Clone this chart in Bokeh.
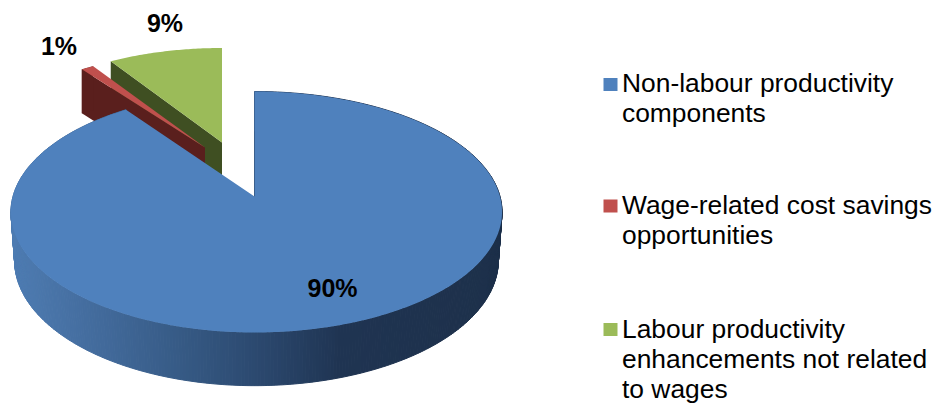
import math
from bokeh.plotting import figure
from bokeh.embed import file_html
from bokeh.resources import INLINE
from bokeh.models import Range1d
from bokeh.core.properties import value

categories = ["Non-labour productivity components",
              "Wage-related cost savings opportunities",
              "Labour productivity enhancements not related to wages"]
shares = [90, 1, 9]
percent_labels = ["90%", "1%", "9%"]
legend_lines = [["Non-labour productivity", "components"],
                ["Wage-related cost savings", "opportunities"],
                ["Labour productivity", "enhancements not related", "to wages"]]

TOP_COLORS = ["#4F81BD", "#C0504D", "#9BBB59"]
WALL_COLORS = [None, "#5A1F1D", "#3F4F22"]
# Left-to-right shading of the front wall of the large slice: (screen x, r, g, b)
WALL_SHADE = [(10, 78, 124, 178), (100, 66, 106, 155), (180, 54, 90, 133),
              (260, 43, 72, 110), (340, 31, 52, 82), (500, 29, 48, 74)]

# Screen placement of each exploded slice:
# apex x, apex y, x scale, y scale, wall depth, sideways rim offset
PLACEMENT = [(254.0, 196, 1.0, 1.0, 48, 2.0),
             (204.5, 147, 0.95, 0.90, 44, 0.0),
             (221.5, 142, 0.945, 0.90, 44, 0.0)]
HALF_W, HALF_D, TILT = 243.5, 118.5, 0.1286


def project(theta_deg, place, drop=0.0, wx=1.0, wy=1.0):
    """Perspective projection of a rim point; theta runs clockwise from 12 o'clock."""
    ax, ay, sx, sy, _, side = place
    t = math.radians(theta_deg)
    u, v = math.sin(t), math.cos(t)
    w = 1 + TILT * v
    return (ax + side * abs(u) + sx * wx * HALF_W * u / w,
            ay + drop - sy * wy * HALF_D * v / w)


def wall_color(x):
    for (x0, *c0), (x1, *c1) in zip(WALL_SHADE, WALL_SHADE[1:]):
        if x <= x1:
            f = max(0.0, (x - x0) / (x1 - x0))
            return "#%02x%02x%02x" % tuple(round(a + (b - a) * f) for a, b in zip(c0, c1))
    return "#%02x%02x%02x" % tuple(WALL_SHADE[-1][1:])


p = figure(width=938, height=403, output_backend="svg", toolbar_location=None,
           x_range=Range1d(0, 938), y_range=Range1d(403, 0), min_border=0,
           outline_line_color=None, background_fill_color="white")
p.axis.visible = False
p.grid.visible = False

# Angular extent of each slice, clockwise from 12 o'clock
total = sum(shares)
spans, start = [], 0.0
for s in shares:
    spans.append((start, start + 360.0 * s / total))
    start += 360.0 * s / total


def rim(i, drop=0.0, wx=1.0, wy=1.0):
    a0, a1 = spans[i]
    n = max(4, int((a1 - a0) * 1.5))
    return [project(a0 + (a1 - a0) * k / n, PLACEMENT[i], drop, wx, wy) for k in range(n + 1)]


# Back slices first, the large slice lies over them
for i in (2, 1):
    ax, ay, _, _, depth, _ = PLACEMENT[i]
    top = rim(i)
    corner = top[0]
    xs = [corner[0], ax, ax, corner[0]]
    ys = [corner[1], ay, ay + depth, corner[1] + depth]
    p.patch(xs, ys, fill_color=WALL_COLORS[i], line_color=None)
    if i == 1:
        outer = rim(i, depth)
        p.patch([q[0] for q in top] + [q[0] for q in outer[::-1]],
                [q[1] for q in top] + [q[1] for q in outer[::-1]],
                fill_color=WALL_COLORS[i], line_color=None)
    p.patch([ax] + [q[0] for q in top], [ay] + [q[1] for q in top],
            fill_color=TOP_COLORS[i], line_color=None)

# Shaded outer wall of the large slice, built from narrow quads
ax, ay, _, _, depth, _ = PLACEMENT[0]
top = rim(0)
low = rim(0, depth, 0.985, 1.038)
qx, qy, qc = [], [], []
for k in range(len(top) - 1):
    qx.append([top[k][0], top[k + 1][0], low[k + 1][0], low[k][0]])
    qy.append([top[k][1], top[k + 1][1], low[k + 1][1], low[k][1]])
    qc.append(wall_color((top[k][0] + top[k + 1][0]) / 2))
p.patches(qx, qy, fill_color=qc, line_color=qc, line_width=1)
p.patch([ax] + [q[0] for q in top], [ay] + [q[1] for q in top],
        fill_color=TOP_COLORS[0], line_color=None)
# Thin edge where the cut side of the large slice meets the gap
p.line([top[0][0], ax], [top[0][1] + 40, ay], line_color="#3A5F8C", line_width=1)

# Percentage labels
LABEL_POS = [(332, 287), (58.5, 45), (164.5, 22.5)]
p.text([q[0] for q in LABEL_POS], [q[1] for q in LABEL_POS], text=percent_labels,
       text_font=value("Liberation Sans"), text_font_style="bold", text_font_size="25px",
       text_align="center", text_baseline="middle", text_color="black")

# Legend, drawn in figure coordinates
SWATCH_Y = [84, 205.5, 329]
TEXT_Y = [82.5, 204.5, 328]
LINE_STEP = 30
tx, ty, tt = [], [], []
for y0, lines in zip(TEXT_Y, legend_lines):
    for j, line in enumerate(lines):
        tx.append(621.5)
        ty.append(y0 + j * LINE_STEP)
        tt.append(line)
p.rect([610] * 3, SWATCH_Y, width=14, height=13, fill_color=TOP_COLORS, line_color=None)
p.text(tx, ty, text=tt, text_font=value("Liberation Sans"), text_font_size="26.4px",
       text_align="left", text_baseline="middle", text_color="black")

open("out.html", "w").write(file_html(p, INLINE))
